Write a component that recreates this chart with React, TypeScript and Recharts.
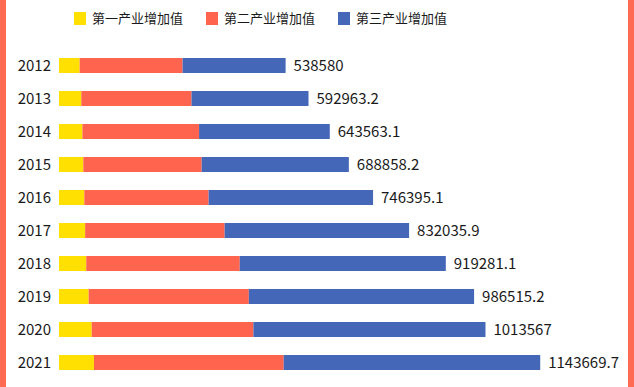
import { Bar, BarChart, LabelList, Legend, XAxis, YAxis } from "recharts";

const years = ["2012", "2013", "2014", "2015", "2016", "2017", "2018", "2019", "2020", "2021"];
const primary = [49084.6, 53028.1, 55626.3, 57774.6, 60139.2, 62099.5, 64745.2, 70473.6, 77754.1, 83085.5];
const secondary = [244639.1, 261951.6, 277282.8, 281338.9, 295427.8, 331580.5, 364835.2, 380670.6, 384255.3, 450904.5];
const tertiary = [244856.3, 277983.5, 310654.0, 349744.7, 390828.1, 438355.9, 489700.7, 535371.0, 551557.6, 609679.7];
const totals = ["538580", "592963.2", "643563.1", "688858.2", "746395.1", "832035.9", "919281.1", "986515.2", "1013567", "1143669.7"];

const seriesNames = ["第一产业增加值", "第二产业增加值", "第三产业增加值"];
const colors = ["#FFE000", "#FF644E", "#4467B8"];

const data = years.map((year, i) => ({
  year,
  primary: primary[i],
  secondary: secondary[i],
  tertiary: tertiary[i],
  total: totals[i],
}));

const FONT = '"Noto Sans CJK SC", "Noto Sans", sans-serif';

function LegendContent() {
  return (
    <div style={{ display: "flex", paddingLeft: 74, fontFamily: FONT }}>
      {seriesNames.map((name, i) => (
        <div key={name} style={{ display: "flex", alignItems: "center", marginRight: 23 }}>
          <span style={{ width: 12, height: 13, background: colors[i], display: "inline-block", marginRight: 6 }} />
          <span style={{ fontSize: 13, color: "#1a1a1a", lineHeight: "16px" }}>{name}</span>
        </div>
      ))}
    </div>
  );
}

export default function App() {
  return (
    <div style={{ position: "absolute", left: 0, top: 0, width: 634, height: 387, background: "#fff", overflow: "hidden" }}>
      <div style={{ position: "absolute", left: 0, top: 0, width: 6, height: 387, background: "#FF6B52" }} />
      <div style={{ position: "absolute", right: 0, top: 0, width: 6, height: 387, background: "#FF6B52" }} />
      <BarChart
        width={634}
        height={387}
        data={data}
        layout="vertical"
        margin={{ top: 33, right: 28, left: 0, bottom: 8 }}
        barCategoryGap={0}
      >
        <XAxis type="number" hide domain={[0, 1300000]} />
        <YAxis
          type="category"
          dataKey="year"
          width={59}
          axisLine={false}
          tickLine={false}
          tick={{ fill: "#1a1a1a", fontSize: 15, fontFamily: FONT }}
        />
        <Legend
          verticalAlign="top"
          align="left"
          content={<LegendContent />}
          wrapperStyle={{ top: 10, left: 0, width: 634 }}
        />
        <Bar dataKey="primary" stackId="a" fill={colors[0]} barSize={15} isAnimationActive={false} />
        <Bar dataKey="secondary" stackId="a" fill={colors[1]} barSize={15} isAnimationActive={false} />
        <Bar dataKey="tertiary" stackId="a" fill={colors[2]} barSize={15} isAnimationActive={false}>
          <LabelList
            dataKey="total"
            position="right"
            offset={8}
            style={{ fill: "#1a1a1a", fontSize: 15, fontFamily: FONT }}
          />
        </Bar>
      </BarChart>
    </div>
  );
}
